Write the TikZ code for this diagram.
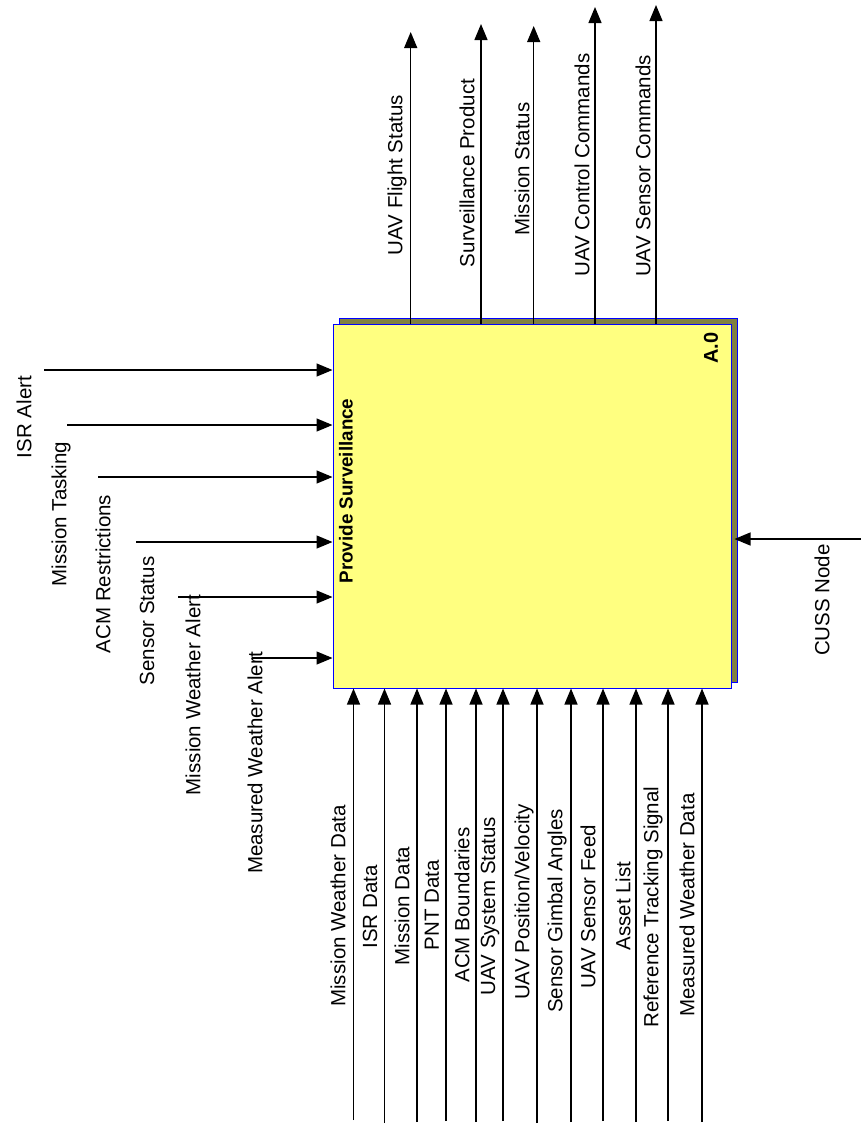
\documentclass[tikz,border=0pt]{standalone}
\usepackage{fontspec}
\setmainfont{Liberation Sans}
\usetikzlibrary{arrows.meta}
\definecolor{boxyellow}{HTML}{FFFF80}
\definecolor{boxshadow}{HTML}{808040}
\definecolor{boxblue}{HTML}{0000FF}
\begin{document}
\begin{tikzpicture}[x=1pt,y=-1pt,
  flow/.style={draw=black,line width=1.3pt,-{Triangle[length=16pt,width=13pt]}},
  lbl/.style={inner sep=0pt,rotate=90,anchor=center,font=\fontsize{20.5}{24}\selectfont},
  actbox/.style={draw=boxblue,line width=1pt,minimum width=398pt,minimum height=364pt,inner sep=0pt}
]
\useasboundingbox (0,0) rectangle (861,1125);
\fill[white] (0,0) rectangle (861,1125);
% activity box with shadow
\node[actbox,fill=boxshadow] (shadow) at (538,500) {};
\node[actbox,fill=boxyellow] (box) at (532,506) {};
\node[inner sep=0pt,rotate=90,font=\bfseries\fontsize{18.8}{22}\selectfont] (title) at (346,491) {Provide Surveillance};
\node[inner sep=0pt,rotate=90,font=\bfseries\fontsize{20}{24}\selectfont] (num) at (711,348) {A.0};
% outputs (top)
\coordinate (o1) at (410.7,32);
\coordinate (o2) at (481,24);
\coordinate (o3) at (533.7,26);
\coordinate (o4) at (595,7);
\coordinate (o5) at (656,5);
\foreach \c in {o1,o2,o3,o4,o5}{\draw[flow] (\c |- box.north) -- (\c);}
\node[lbl] (lo1) at (397,175) {UAV Flight Status};
\node[lbl] (lo2) at (467,173) {Surveillance Product};
\node[lbl] (lo3) at (522,169) {Mission Status};
\node[lbl] (lo4) at (582,165) {UAV Control Commands};
\node[lbl] (lo5) at (643,166) {UAV Sensor Commands};
% controls (left)
\coordinate (c1) at (44,370);
\coordinate (c2) at (67,425);
\coordinate (c3) at (98,477);
\coordinate (c4) at (136,542);
\coordinate (c5) at (178,597);
\coordinate (c6) at (252,658);
\foreach \c in {c1,c2,c3,c4,c5,c6}{\draw[flow] (\c) -- (\c -| box.west);}
\node[lbl] (lc1) at (24,417) {ISR Alert};
\node[lbl] (lc2) at (61,514) {Mission Tasking};
\node[lbl] (lc3) at (103,574) {ACM Restrictions};
\node[lbl] (lc4) at (147,621) {Sensor Status};
\node[lbl] (lc5) at (193,695) {Mission Weather Alert};
\node[lbl] (lc6) at (255,763) {Measured Weather Alert};
% inputs (bottom)
\coordinate (i1) at (353.5,1120);
\coordinate (i2) at (384.5,1123);
\coordinate (i3) at (417,1122);
\coordinate (i4) at (446,1121);
\coordinate (i5) at (476,1122);
\coordinate (i6) at (503,1121);
\coordinate (i7) at (537,1123);
\coordinate (i8) at (571,1122);
\coordinate (i9) at (603,1121);
\coordinate (i10) at (636,1122);
\coordinate (i11) at (668,1121);
\coordinate (i12) at (702,1122);
\foreach \c in {i1,i2,i3,i4,i5,i6,i7,i8,i9,i10,i11,i12}{\draw[flow] (\c) -- (\c |- box.south);}
\node[lbl] (li1) at (338,906) {Mission Weather Data};
\node[lbl] (li2) at (370,907) {ISR Data};
\node[lbl] (li3) at (402,906) {Mission Data};
\node[lbl] (li4) at (432,905) {PNT Data};
\node[lbl] (li5) at (462,905) {ACM Boundaries};
\node[lbl] (li6) at (490,906) {UAV System Status};
\node[lbl] (li7) at (524,902) {UAV Position/Velocity};
\node[lbl] (li8) at (557,911) {Sensor Gimbal Angles};
\node[lbl] (li9) at (588,907) {UAV Sensor Feed};
\node[lbl] (li10) at (623,906) {Asset List};
\node[lbl] (li11) at (653,907) {Reference Tracking Signal};
\node[lbl] (li12) at (687,905) {Measured Weather Data};
% mechanism (right)
\coordinate (m1) at (861,539);
\draw[flow] (m1) -- ([xshift=-3pt]m1 -| shadow.east);
\node[lbl] (lm1) at (822,600) {CUSS Node};
\end{tikzpicture}
\end{document}
